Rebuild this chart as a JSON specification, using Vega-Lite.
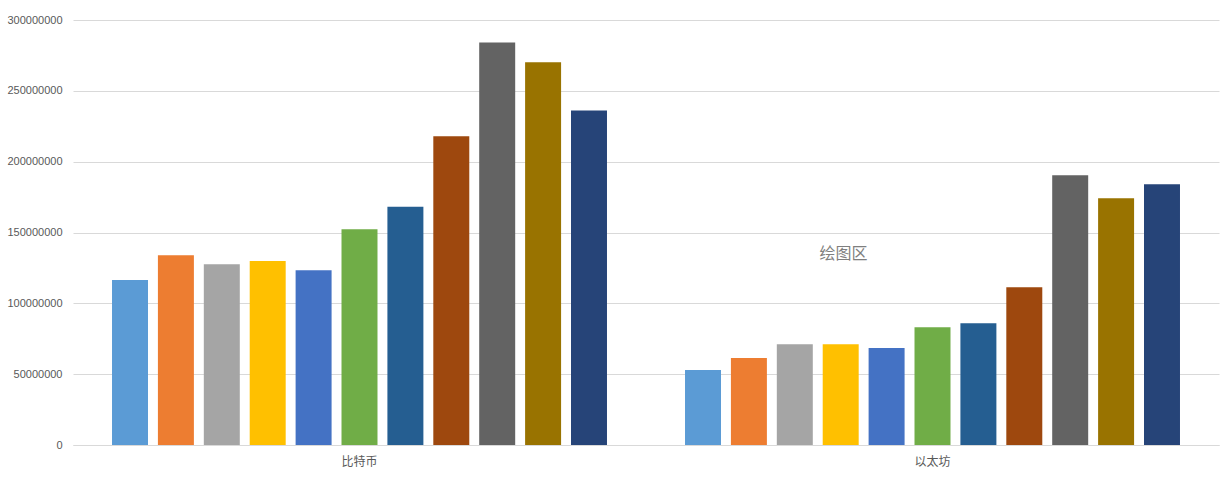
{
  "$schema": "https://vega.github.io/schema/vega-lite/v6.json",
  "autosize": {"type": "none"},
  "padding": {"left": 73, "top": 20, "right": 12, "bottom": 36},
  "width": 1146,
  "height": 425,
  "background": "white",
  "config": {"view": {"stroke": null}, "font": "Liberation Sans"},
  "data": {"values": [
    {"coin": "比特币", "series": "系列01", "value": 116400000},
    {"coin": "比特币", "series": "系列02", "value": 134000000},
    {"coin": "比特币", "series": "系列03", "value": 127600000},
    {"coin": "比特币", "series": "系列04", "value": 129800000},
    {"coin": "比特币", "series": "系列05", "value": 123400000},
    {"coin": "比特币", "series": "系列06", "value": 152300000},
    {"coin": "比特币", "series": "系列07", "value": 168100000},
    {"coin": "比特币", "series": "系列08", "value": 217900000},
    {"coin": "比特币", "series": "系列09", "value": 284200000},
    {"coin": "比特币", "series": "系列10", "value": 270100000},
    {"coin": "比特币", "series": "系列11", "value": 236200000},
    {"coin": "以太坊", "series": "系列01", "value": 52900000},
    {"coin": "以太坊", "series": "系列02", "value": 61400000},
    {"coin": "以太坊", "series": "系列03", "value": 71200000},
    {"coin": "以太坊", "series": "系列04", "value": 71200000},
    {"coin": "以太坊", "series": "系列05", "value": 68400000},
    {"coin": "以太坊", "series": "系列06", "value": 83200000},
    {"coin": "以太坊", "series": "系列07", "value": 86000000},
    {"coin": "以太坊", "series": "系列08", "value": 111400000},
    {"coin": "以太坊", "series": "系列09", "value": 190400000},
    {"coin": "以太坊", "series": "系列10", "value": 174200000},
    {"coin": "以太坊", "series": "系列11", "value": 184100000}
  ]},
  "layer": [
    {
      "mark": {"type": "bar"},
      "encoding": {
        "x": {
          "field": "coin", "type": "nominal", "sort": null,
          "scale": {"domain": ["比特币", "以太坊"], "paddingInner": 0, "paddingOuter": 0},
          "axis": {"title": null, "labelAngle": 0, "ticks": false, "domain": true, "domainColor": "#d9d9d9", "labelColor": "#595959", "labelFontSize": 12, "labelPadding": 11, "labelFont": "Noto Sans CJK SC"}
        },
        "xOffset": {
          "field": "series", "type": "nominal",
          "scale": {"paddingInner": 0.216, "paddingOuter": 0.85}
        },
        "y": {
          "field": "value", "type": "quantitative",
          "scale": {"domain": [0, 300000000], "nice": false},
          "axis": {"title": null, "values": [0, 50000000, 100000000, 150000000, 200000000, 250000000, 300000000], "labelOverlap": false, "format": "d", "ticks": false, "domain": false, "gridColor": "#d9d9d9", "labelColor": "#595959", "labelFontSize": 11, "labelPadding": 11}
        },
        "color": {
          "field": "series", "type": "nominal", "legend": null,
          "scale": {"range": ["#5B9BD5", "#ED7D31", "#A5A5A5", "#FFC000", "#4472C4", "#70AD47", "#255E91", "#9E480E", "#636363", "#997300", "#264478"]}
        }
      }
    },
    {
      "data": {"values": [{"coin": "以太坊", "value": 135000000, "label": "绘图区"}]},
      "mark": {"type": "text", "dx": -89, "fontSize": 16, "font": "Noto Sans CJK SC", "color": "#7f7f7f"},
      "encoding": {
        "x": {"field": "coin", "type": "nominal", "sort": null},
        "y": {"field": "value", "type": "quantitative"},
        "text": {"field": "label"}
      }
    }
  ]
}
